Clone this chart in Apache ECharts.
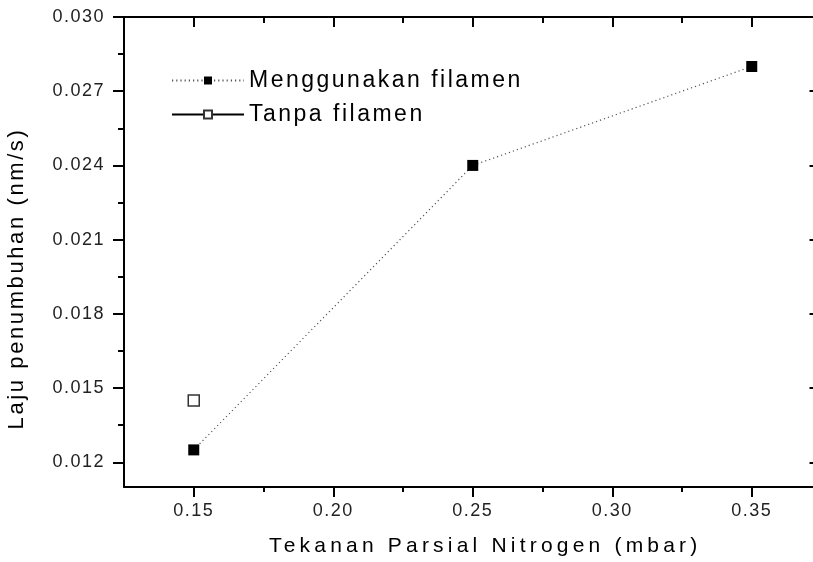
<!DOCTYPE html>
<html><head><meta charset="utf-8">
<script src="https://cdn.jsdelivr.net/npm/echarts@6/dist/echarts.min.js"></script>
<style>html,body{margin:0;padding:0;background:#fff}#c{width:813px;height:562px}</style>
</head><body><div id="c"></div>
<script>
// ---- data ----
const pressure = [0.15, 0.25, 0.35];
const withFilament = [0.0125, 0.024, 0.028];
const pressureNoFil = [0.15];
const withoutFilament = [0.0145];
const seriesNames = ['Menggunakan filamen', 'Tanpa filamen'];
const xTitle = 'Tekanan Parsial Nitrogen (mbar)';
const yTitle = 'Laju penumbuhan (nm/s)';
const xMajorTicks = [0.15, 0.20, 0.25, 0.30, 0.35];
const xMinorTicks = [0.175, 0.225, 0.275, 0.325];
const yMajorTicks = [0.012, 0.015, 0.018, 0.021, 0.024, 0.027, 0.030];
const yMinorTicks = [0.0135, 0.0165, 0.0195, 0.0225, 0.0255, 0.0285];
const xRange = [0.125, 0.375];
const yRange = [0.011, 0.030];

// wide letter spacing like the original export (by font size)
(function () {
  const P = CanvasRenderingContext2D.prototype, orig = P.fillText;
  const map = {18: '1.5px', 23: '2.5px', 21: '4.2px', 22: '2.6px'};
  P.fillText = function (t, x, y, m) {
    const mm = /(\d+)px/.exec(this.font || '');
    const prev = this.letterSpacing;
    if (mm && map[mm[1]] && 'letterSpacing' in this) this.letterSpacing = map[mm[1]];
    const r = m === undefined ? orig.call(this, t, x, y) : orig.call(this, t, x, y, m);
    if ('letterSpacing' in this) this.letterSpacing = prev || '0px';
    return r;
  };
})();

const chart = echarts.init(document.getElementById('c'), null, {renderer: 'canvas'});
const font = 'Liberation Sans, Arial, sans-serif';
const lineOn = {show: true, onZero: false, lineStyle: {color: '#000', width: 2}};
const lineOff = {show: false, onZero: false};
const tickStyle = {color: '#000', width: 2};

function xAx(pos, ticks, len, inside, extra) {
  return Object.assign({
    type: 'value', position: pos, min: xRange[0], max: xRange[1],
    axisLine: lineOff, splitLine: {show: false}, axisLabel: {show: false},
    axisTick: {show: true, inside: inside, length: len, lineStyle: tickStyle, customValues: ticks}
  }, extra || {});
}
function yAx(pos, ticks, len, inside, extra) {
  return Object.assign({
    type: 'value', position: pos, min: yRange[0], max: yRange[1],
    axisLine: lineOff, splitLine: {show: false}, axisLabel: {show: false},
    axisTick: {show: true, inside: inside, length: len, lineStyle: tickStyle, customValues: ticks}
  }, extra || {});
}

chart.setOption({
  animation: false,
  backgroundColor: '#fff',
  grid: {left: 124, top: 17, width: 697.5, height: 470, outerBoundsMode: 'none', containLabel: false},
  legend: {
    orient: 'vertical', left: 166, top: 64, itemGap: 11,
    itemWidth: 72, itemHeight: 10,
    textStyle: {fontFamily: font, fontSize: 23, color: '#000'},
    data: seriesNames
  },
  xAxis: [
    xAx('bottom', xMajorTicks, 10, false, {
      axisLine: lineOn,
      axisLabel: {show: true, customValues: xMajorTicks, margin: 15, fontFamily: font, fontSize: 18, color: '#222',
        formatter: v => v.toFixed(2)},
      name: xTitle, nameLocation: 'middle', nameGap: 49,
      nameTextStyle: {fontFamily: font, fontSize: 21, color: '#000', padding: [0, 0, 0, 25]}
    }),
    xAx('bottom', xMinorTicks, 5, false),
    xAx('top', xMajorTicks, 10, true, {axisLine: lineOn}),
    xAx('top', xMinorTicks, 6, true)
  ],
  yAxis: [
    yAx('left', yMajorTicks, 11, false, {
      axisLine: lineOn,
      axisLabel: {show: true, customValues: yMajorTicks, margin: 19, fontFamily: font, fontSize: 18, color: '#222',
        formatter: v => v.toFixed(3)},
      name: yTitle, nameLocation: 'middle', nameGap: 96, nameRotate: 90,
      nameTextStyle: {fontFamily: font, fontSize: 22, color: '#000', padding: [0, 53, 0, 0]}
    }),
    yAx('left', yMinorTicks, 6, false),
    yAx('right', yMajorTicks, 12, true, {axisLine: lineOn}),
    yAx('right', yMinorTicks, 6, true)
  ],
  series: [{
    name: seriesNames[0], type: 'line', xAxisIndex: 0, yAxisIndex: 0,
    data: pressure.map((p, i) => [p, withFilament[i]]),
    symbol: 'rect', symbolSize: 11,
    itemStyle: {color: '#000', borderColor: '#000', borderWidth: 0},
    lineStyle: {color: '#555', width: 1.2, type: [1.2, 3]}
  }, {
    name: seriesNames[1], type: 'line', xAxisIndex: 0, yAxisIndex: 0,
    data: pressureNoFil.map((p, i) => [p, withoutFilament[i]]),
    symbol: 'rect', symbolSize: 11,
    itemStyle: {color: '#fff', borderColor: '#333', borderWidth: 1.5},
    lineStyle: {color: '#000', width: 1.2, type: 'solid'}
  }]
});
</script></body></html>
